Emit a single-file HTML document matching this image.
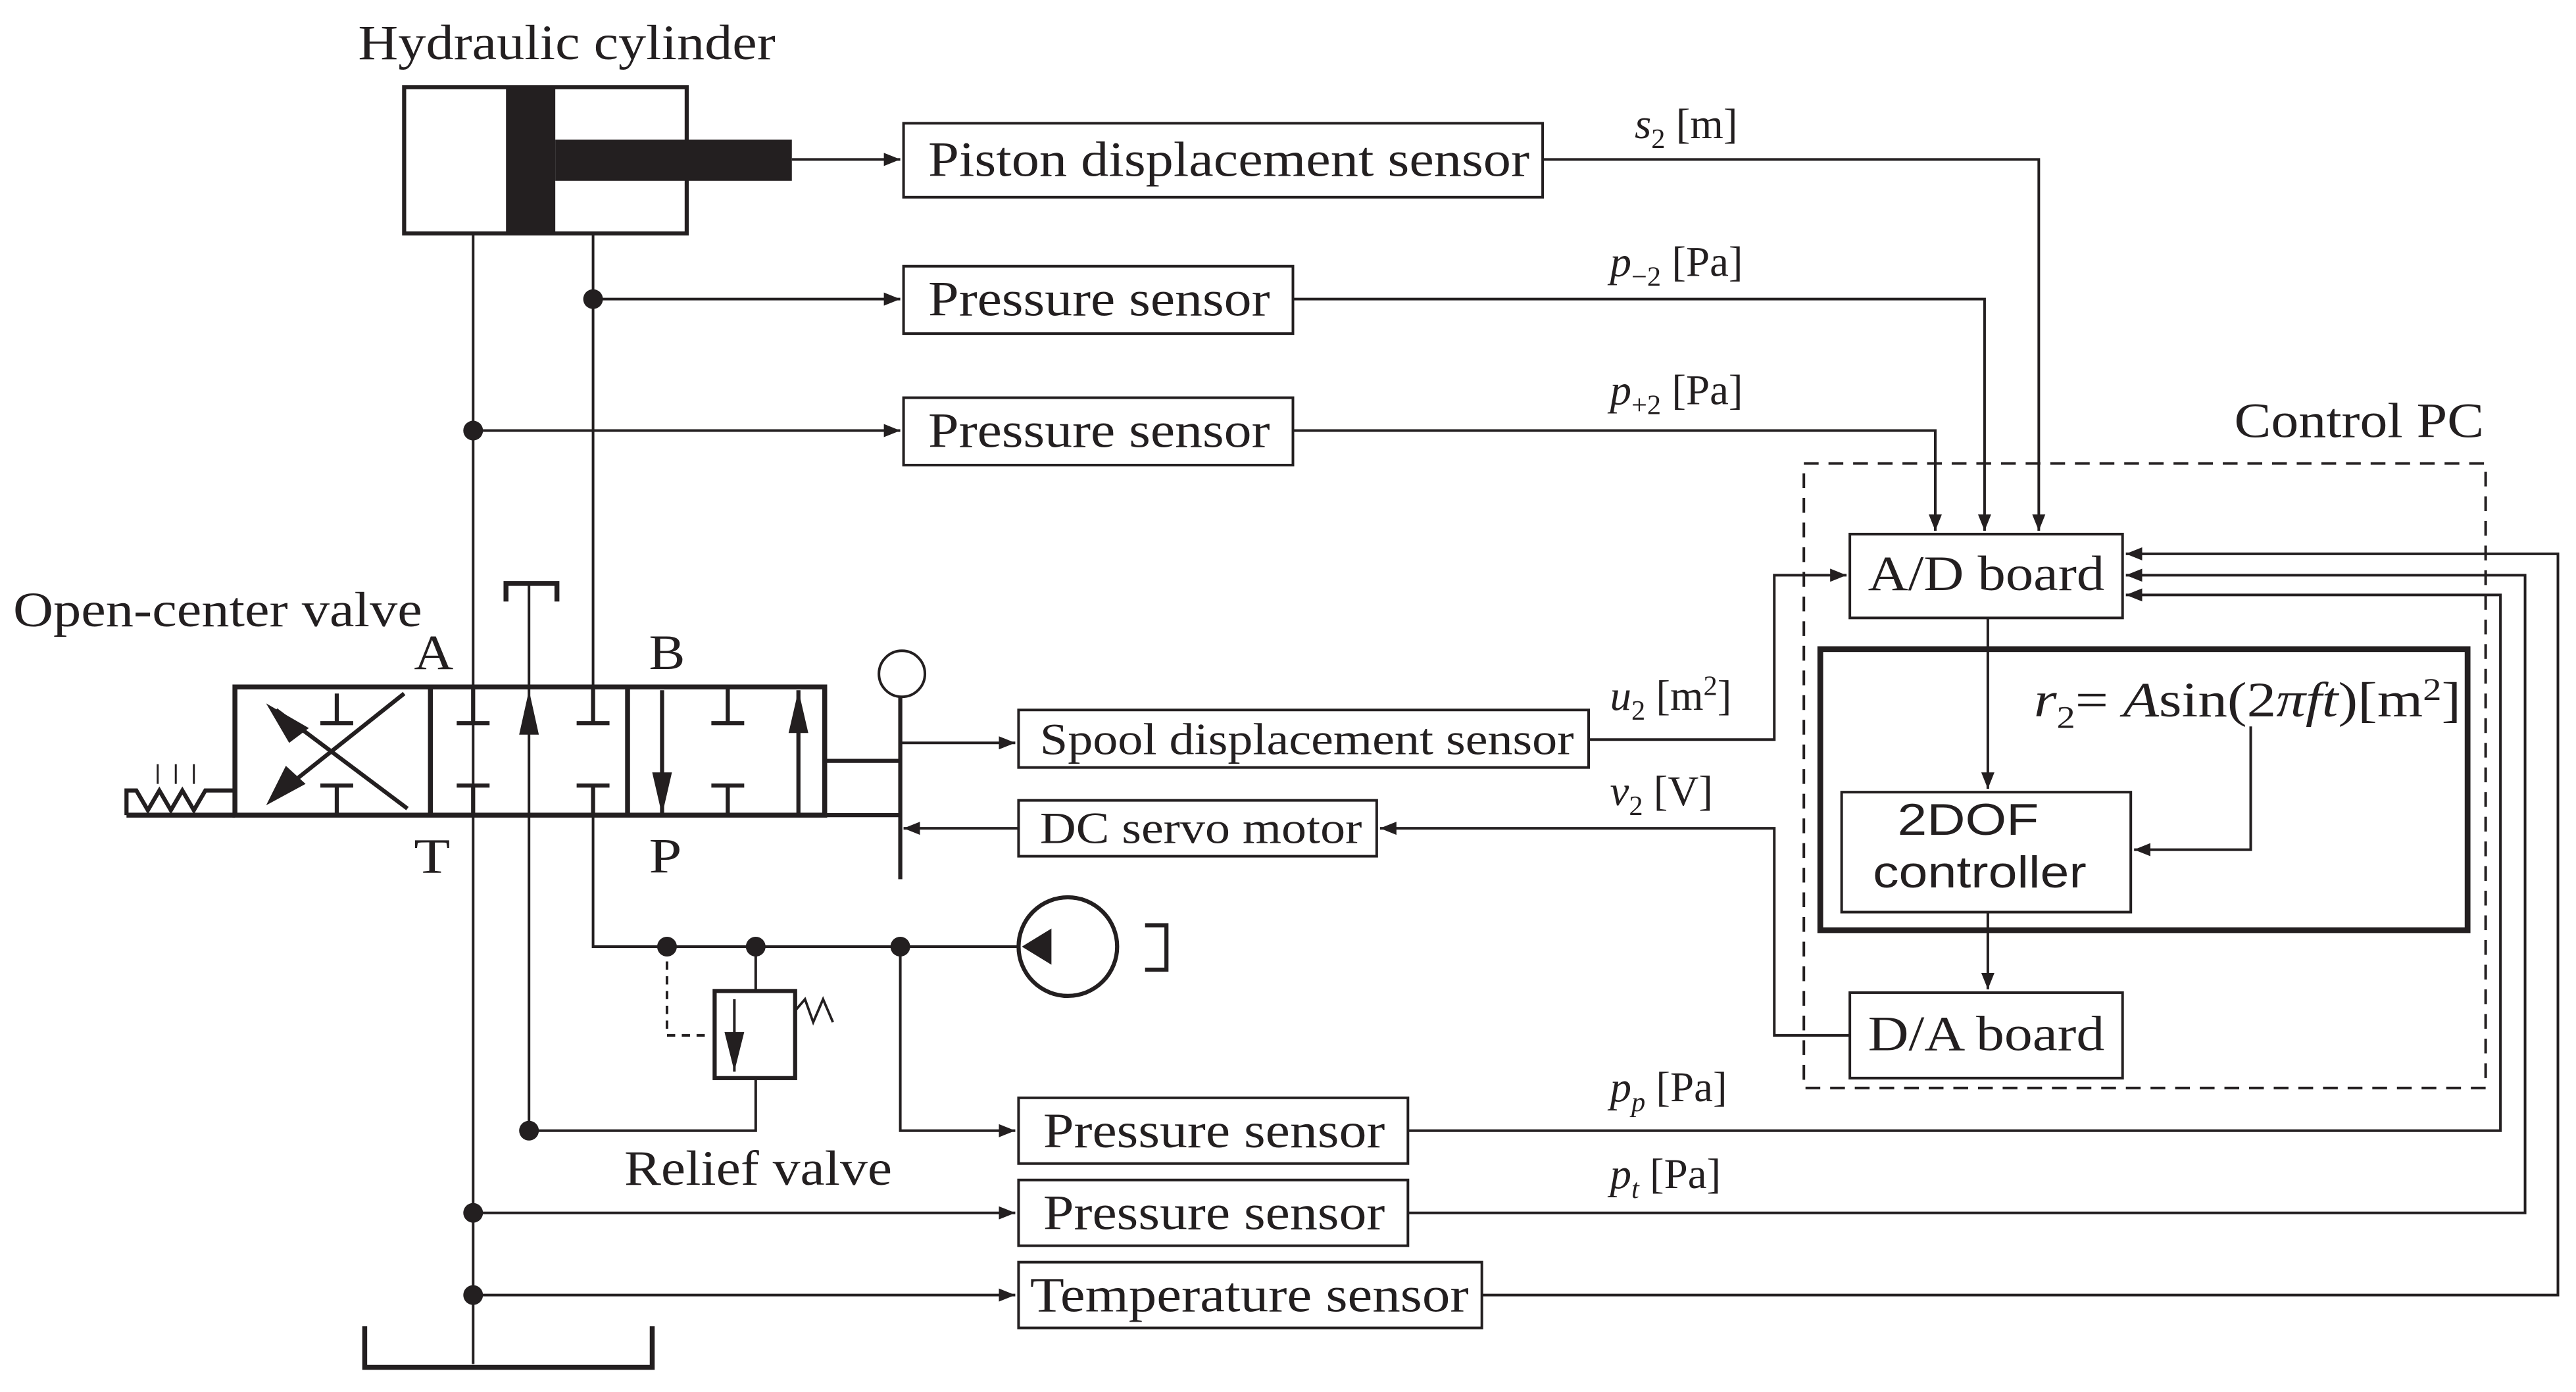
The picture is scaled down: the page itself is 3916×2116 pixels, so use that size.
<!DOCTYPE html>
<html><head><meta charset="utf-8">
<style>
html,body{margin:0;padding:0;background:#fff;}
svg{display:block;}
text{font-family:"Liberation Serif",serif;fill:#231f20;}
</style></head>
<body>
<svg width="3916" height="2116" viewBox="0 0 1568 847" preserveAspectRatio="none" xmlns="http://www.w3.org/2000/svg">
<defs>
<marker id="ar" markerWidth="10" markerHeight="8" refX="10" refY="4" orient="auto" markerUnits="userSpaceOnUse">
<path d="M0,0 L10,4 L0,8 z" fill="#231f20"/></marker>
</defs>
<g stroke="#231f20" fill="none" stroke-width="1.6">
<rect x="246" y="53" width="172" height="89" stroke-width="2.5"/>
<rect x="308" y="53" width="30" height="89" fill="#231f20" stroke="none"/>
<rect x="338" y="85" width="144" height="25" fill="#231f20" stroke="none"/>
<line x1="482" y1="97" x2="548" y2="97" marker-end="url(#ar)"/>
<rect x="550" y="75" width="389" height="45"/>
<polyline points="939,97 1241,97 1241,323" marker-end="url(#ar)"/>
<line x1="288" y1="142" x2="288" y2="830"/>
<line x1="361" y1="142" x2="361" y2="418"/>
<line x1="361" y1="182" x2="548" y2="182" marker-end="url(#ar)"/>
<rect x="550" y="162" width="237" height="41"/>
<polyline points="787,182 1208,182 1208,323" marker-end="url(#ar)"/>
<line x1="288" y1="262" x2="548" y2="262" marker-end="url(#ar)"/>
<rect x="550" y="242" width="237" height="41"/>
<polyline points="787,262 1178,262 1178,323" marker-end="url(#ar)"/>
<rect x="1098" y="282" width="415" height="380" stroke-dasharray="9,6"/>
<rect x="1126" y="325" width="166" height="51"/>
<rect x="1108" y="395" width="394" height="171" stroke-width="3.5"/>
<rect x="1121" y="482" width="176" height="73"/>
<rect x="1126" y="604" width="166" height="52"/>
<line x1="1210" y1="376" x2="1210" y2="480" marker-end="url(#ar)"/>
<line x1="1210" y1="555" x2="1210" y2="602" marker-end="url(#ar)"/>
<polyline points="1370,442 1370,517 1299,517" marker-end="url(#ar)"/>
<rect x="143" y="418" width="359" height="78" stroke-width="3"/>
<line x1="262" y1="418" x2="262" y2="496" stroke-width="3"/>
<line x1="382" y1="418" x2="382" y2="496" stroke-width="3"/>
<line x1="248" y1="492" x2="168" y2="432" stroke-width="2.5"/>
<line x1="246" y1="422" x2="168" y2="484" stroke-width="2.5"/>
<path d="M162,428 L188,443 L176,452 z" fill="#231f20" stroke="none"/>
<path d="M162,490 L174,466 L186,477 z" fill="#231f20" stroke="none"/>
<path d="M205,422 v18 M195,440 h20 M205,496 v-18 M195,478 h20" stroke-width="2.5"/>
<path d="M288,418 v22 M278,440 h20 M361,418 v22 M351,440 h20 M288,496 v-18 M278,478 h20 M361,496 v-18 M351,478 h20" stroke-width="2.5"/>
<path d="M443,418 v22 M433,440 h20 M443,496 v-18 M433,478 h20" stroke-width="2.5"/>
<line x1="403" y1="420" x2="403" y2="496" stroke-width="2.5"/>
<path d="M397,470 L409,470 L403,496 z" fill="#231f20" stroke="none"/>
<line x1="486" y1="497" x2="486" y2="420" stroke-width="2.5"/>
<path d="M480,446 L492,446 L486,420 z" fill="#231f20" stroke="none"/>
<line x1="322" y1="355" x2="322" y2="690"/>
<path d="M316,447 L328,447 L322,420 z" fill="#231f20" stroke="none"/>
<path d="M308,366 V355 H339 V366" stroke-width="3"/>
<path d="M77,496 V481 H83 L90,493 L97,481 L104,493 L111,481 L118,493 L125,481 L130,481 L143,481" stroke-width="2.5"/>
<line x1="77" y1="496" x2="143" y2="496" stroke-width="3"/>
<path d="M96,465 v12 M107,465 v12 M118,465 v12" stroke-width="1.2"/>
<path d="M502,463 H548 M502,496 H548" stroke-width="2.5"/>
<line x1="548" y1="424" x2="548" y2="535" stroke-width="2.5"/>
<circle cx="549" cy="410" r="14"/>
<line x1="548" y1="452" x2="618" y2="452" marker-end="url(#ar)"/>
<rect x="620" y="432" width="347" height="35"/>
<polyline points="967,450 1080,450 1080,350 1124,350" marker-end="url(#ar)"/>
<rect x="620" y="487" width="218" height="34"/>
<line x1="620" y1="504" x2="550" y2="504" marker-end="url(#ar)"/>
<polyline points="1126,630 1080,630 1080,504 840,504" marker-end="url(#ar)"/>
<polyline points="361,496 361,576 620,576"/>
<circle cx="650" cy="576" r="30" stroke-width="2.5"/>
<path d="M622,576 L640,565 L640,587 z" fill="#231f20" stroke="none"/>
<path d="M697,563 H710 V590 H697" stroke-width="2.5"/>
<polyline points="406,576 406,630 433,630" stroke-dasharray="5,4"/>
<rect x="435" y="603" width="49" height="53" stroke-width="2.5"/>
<line x1="460" y1="576" x2="460" y2="603"/>
<line x1="447" y1="608" x2="447" y2="652"/>
<path d="M441,628 L453,628 L447,652 z" fill="#231f20" stroke="none"/>
<path d="M484,615 L490,608 L495,622 L501,608 L507,622" stroke-width="1.5"/>
<polyline points="460,656 460,688 322,688"/>
<polyline points="548,576 548,688 618,688" marker-end="url(#ar)"/>
<rect x="620" y="668" width="237" height="40"/>
<polyline points="857,688 1522,688 1522,362 1294,362" marker-end="url(#ar)"/>
<line x1="288" y1="738" x2="618" y2="738" marker-end="url(#ar)"/>
<rect x="620" y="718" width="237" height="40"/>
<polyline points="857,738 1537,738 1537,350 1294,350" marker-end="url(#ar)"/>
<line x1="288" y1="788" x2="618" y2="788" marker-end="url(#ar)"/>
<rect x="620" y="768" width="282" height="40"/>
<polyline points="902,788 1557,788 1557,337 1294,337" marker-end="url(#ar)"/>
<path d="M222,807 V832 H397 V807" stroke-width="3"/>
</g>
<g fill="#231f20">
<circle cx="361" cy="182" r="6"/><circle cx="288" cy="262" r="6"/>
<circle cx="406" cy="576" r="6"/><circle cx="460" cy="576" r="6"/><circle cx="548" cy="576" r="6"/>
<circle cx="322" cy="688" r="6"/><circle cx="288" cy="738" r="6"/><circle cx="288" cy="788" r="6"/>
</g>
<g font-size="30">
<text x="218" y="36" textLength="254" lengthAdjust="spacingAndGlyphs">Hydraulic cylinder</text>
<text x="565" y="107" textLength="366" lengthAdjust="spacingAndGlyphs">Piston displacement sensor</text>
<text x="565" y="192" textLength="208" lengthAdjust="spacingAndGlyphs">Pressure sensor</text>
<text x="565" y="272" textLength="208" lengthAdjust="spacingAndGlyphs">Pressure sensor</text>
<text x="1360" y="266" textLength="152" lengthAdjust="spacingAndGlyphs">Control PC</text>
<text x="1137" y="359" textLength="144" lengthAdjust="spacingAndGlyphs">A/D board</text>
<text x="1137" y="639" textLength="144" lengthAdjust="spacingAndGlyphs">D/A board</text>
<text x="8" y="381" textLength="249" lengthAdjust="spacingAndGlyphs">Open-center valve</text>
<text x="252" y="407" textLength="24" lengthAdjust="spacingAndGlyphs">A</text><text x="395" y="407" textLength="22" lengthAdjust="spacingAndGlyphs">B</text>
<text x="252" y="531" textLength="22" lengthAdjust="spacingAndGlyphs">T</text><text x="395" y="531" textLength="20" lengthAdjust="spacingAndGlyphs">P</text>
<text x="380" y="721" textLength="163" lengthAdjust="spacingAndGlyphs">Relief valve</text>
<text x="635" y="698" textLength="208" lengthAdjust="spacingAndGlyphs">Pressure sensor</text>
<text x="635" y="748" textLength="208" lengthAdjust="spacingAndGlyphs">Pressure sensor</text>
<text x="627" y="798" textLength="267" lengthAdjust="spacingAndGlyphs">Temperature sensor</text>
</g>
<g font-size="27">
<text x="633" y="459" textLength="325" lengthAdjust="spacingAndGlyphs">Spool displacement sensor</text>
<text x="633" y="513" textLength="196" lengthAdjust="spacingAndGlyphs">DC servo motor</text>
<text x="1155" y="508" textLength="86" lengthAdjust="spacingAndGlyphs" style="font-family:'Liberation Sans',sans-serif">2DOF</text>
<text x="1140" y="540" textLength="130" lengthAdjust="spacingAndGlyphs" style="font-family:'Liberation Sans',sans-serif">controller</text>
</g>
<g font-size="26">
<text x="995" y="84"><tspan font-style="italic">s</tspan><tspan font-size="17" dy="6">2</tspan><tspan dy="-6">  [m]</tspan></text>
<text x="980" y="168"><tspan font-style="italic">p</tspan><tspan font-size="17" dy="6">−2</tspan><tspan dy="-6">  [Pa]</tspan></text>
<text x="980" y="246"><tspan font-style="italic">p</tspan><tspan font-size="17" dy="6">+2</tspan><tspan dy="-6">  [Pa]</tspan></text>
<text x="980" y="432"><tspan font-style="italic">u</tspan><tspan font-size="17" dy="6">2</tspan><tspan dy="-6">  [m</tspan><tspan font-size="17" dy="-9">2</tspan><tspan dy="9">]</tspan></text>
<text x="980" y="490"><tspan font-style="italic">v</tspan><tspan font-size="17" dy="6">2</tspan><tspan dy="-6">  [V]</tspan></text>
<text x="980" y="670"><tspan font-style="italic">p</tspan><tspan font-size="17" font-style="italic" dy="6">p</tspan><tspan dy="-6">  [Pa]</tspan></text>
<text x="980" y="723"><tspan font-style="italic">p</tspan><tspan font-size="17" font-style="italic" dy="6">t</tspan><tspan dy="-6">   [Pa]</tspan></text>
</g>
<text x="1238" y="436" font-size="30" textLength="260" lengthAdjust="spacingAndGlyphs"><tspan font-style="italic">r</tspan><tspan font-size="19" dy="7">2</tspan><tspan dy="-7">= </tspan><tspan font-style="italic">A</tspan><tspan>sin(2</tspan><tspan font-style="italic">πft</tspan><tspan>)[m</tspan><tspan font-size="19" dy="-10">2</tspan><tspan dy="10">]</tspan></text>
</svg>
</body></html>
